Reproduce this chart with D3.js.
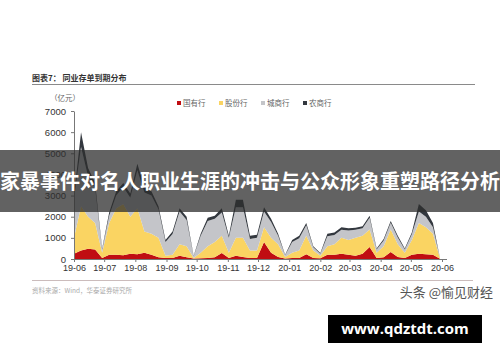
<!DOCTYPE html>
<html lang="zh">
<head>
  <meta charset="UTF-8">
  <title>同业存单到期分布</title>
  <script src="https://d3js.org/d3.v7.min.js"></script>
  <style>
    body { margin: 0; background: #fff; }
    svg text { font-family: "Liberation Sans", Arial, sans-serif; }
    .cjk { font-family: "Noto Sans CJK SC", sans-serif; }
  </style>
</head>
<body>
<script>
  // weekly maturity amounts (亿元)
  const seriesNames = ['国有行', '股份行', '城商行', '农商行'];
  const stateBanks = [250,400,480,450,50,200,200,180,250,220,300,200,80,50,50,150,80,20,30,50,80,280,50,150,100,50,50,800,300,100,20,50,50,230,50,30,200,200,250,200,150,250,570,50,80,330,100,50,200,250,230,200,10];
  const jointBanks = [750,2100,1520,1250,250,1500,2200,2420,1750,2180,1000,1000,920,100,150,550,520,30,270,550,720,820,250,850,900,350,350,700,700,600,80,250,350,870,350,120,400,500,750,700,850,850,830,250,520,1070,600,250,700,1450,1270,1000,20];
  const cityBanks = [1850,2800,1900,1650,150,350,600,800,900,1800,1850,1800,1350,650,980,1550,1250,80,800,1200,1100,1100,700,1450,1450,550,600,750,750,400,80,500,580,500,150,100,480,430,380,450,380,350,550,150,270,320,320,150,270,550,500,300,15];
  const ruralBanks = [150,700,400,250,50,150,200,200,200,300,250,200,150,100,120,150,150,20,100,150,150,200,100,350,350,150,150,200,150,100,20,100,120,100,50,30,120,120,120,100,100,100,100,50,80,80,80,50,80,350,300,200,5];
  const yTicks = [0, 1000, 2000, 3000, 4000, 5000, 6000, 7000];
  const monthLabels = ['19-06','19-07','19-08','19-09','19-10','19-11','19-12','20-01','20-02','20-03','20-04','20-05','20-06'];

  const colors = ['#c00d12', '#fad462', '#c4c5c9', '#33383f'];
  const start = new Date(2019, 5, 1);

  const rows = stateBanks.map((v, i) => ({
    date: d3.timeDay.offset(start, 7 * i),
    '国有行': v, '股份行': jointBanks[i], '城商行': cityBanks[i], '农商行': ruralBanks[i]
  }));

  const W = 500, H = 362;
  const svg = d3.select('body').append('svg').attr('width', W).attr('height', H);

  const x = d3.scaleTime().domain([start, new Date(2020, 5, 1)]).range([74, 442]);
  const y = d3.scaleLinear().domain([0, 7000]).range([259, 111]);

  // title + rules
  svg.append('text').attr('class', 'cjk').attr('x', 32).attr('y', 81)
    .attr('font-size', 8).attr('font-weight', 'bold').attr('fill', '#333')
    .text('图表7：  同业存单到期分布');
  svg.append('line').attr('x1', 32).attr('x2', 475).attr('y1', 84.5).attr('y2', 84.5)
    .attr('stroke', '#8a8a8a').attr('stroke-width', 1);
  svg.append('text').attr('class', 'cjk').attr('x', 50).attr('y', 101)
    .attr('font-size', 7.5).attr('fill', '#666').text('（亿元）');

  // legend
  const legend = svg.append('g');
  seriesNames.forEach((n, i) => {
    const lx = 177 + i * 42;
    legend.append('rect').attr('x', lx).attr('y', 101).attr('width', 4).attr('height', 4).attr('fill', colors[i]);
    legend.append('text').attr('class', 'cjk').attr('x', lx + 6).attr('y', 106)
      .attr('font-size', 7.5).attr('fill', '#666').text(n);
  });

  // stacked areas
  const stack = d3.stack().keys(seriesNames);
  const layers = stack(rows);
  const area = d3.area()
    .x(d => x(d.data.date))
    .y0(d => y(d[0]))
    .y1(d => y(d[1]));
  svg.append('g').selectAll('path').data(layers).join('path')
    .attr('d', area).attr('fill', (d, i) => colors[i]);

  // y axis
  const yAxis = svg.append('g').attr('transform', 'translate(74,0)')
    .call(d3.axisLeft(y).tickValues(yTicks).tickFormat(d3.format('d'))
      .tickSize(3).tickSizeOuter(0).tickPadding(5));
  yAxis.select('.domain').attr('stroke', '#777');
  yAxis.selectAll('.tick line').attr('stroke', '#777');
  yAxis.selectAll('text').attr('font-size', 9.5).attr('fill', '#333');

  // x axis
  const xAxis = svg.append('g').attr('transform', 'translate(0,259)')
    .call(d3.axisBottom(x).ticks(d3.timeMonth.every(1)).tickSize(3).tickSizeOuter(0)
      .tickFormat((d, i) => monthLabels[i]).tickPadding(3));
  xAxis.select('.domain').attr('d', 'M74,0.5H447').attr('stroke', '#777');
  xAxis.selectAll('.tick line').attr('stroke', '#777');
  xAxis.selectAll('text').attr('font-size', 9).attr('fill', '#333');

  // footer
  svg.append('line').attr('x1', 32).attr('x2', 473).attr('y1', 280.5).attr('y2', 280.5)
    .attr('stroke', '#cbbcbc').attr('stroke-width', 1);
  svg.append('text').attr('class', 'cjk').attr('x', 32).attr('y', 293)
    .attr('font-size', 6.5).attr('fill', '#aaa').text('资料来源：Wind，华泰证券研究所');
  svg.append('text').attr('class', 'cjk').attr('x', 493).attr('y', 297)
    .attr('text-anchor', 'end').attr('font-size', 13).attr('fill', '#555').text('头条 @愉见财经');

  // overlay banner
  svg.append('rect').attr('x', 0).attr('y', 150).attr('width', W).attr('height', 62)
    .attr('fill', 'rgba(45,45,45,0.75)');
  svg.append('text').attr('class', 'cjk').attr('x', 250).attr('y', 189)
    .attr('text-anchor', 'middle').attr('font-size', 20).attr('font-weight', 'bold')
    .attr('fill', '#fff').text('家暴事件对名人职业生涯的冲击与公众形象重塑路径分析');

  // url box
  svg.append('rect').attr('x', 328).attr('y', 315).attr('width', 154).attr('height', 28).attr('fill', '#000');
  svg.append('text').attr('x', 405).attr('y', 334).attr('text-anchor', 'middle')
    .attr('font-size', 15).attr('font-weight', 'bold').attr('fill', '#fff')
    .style('font-family', '"Open Sans", sans-serif').text('www.qdztdt.com');
</script>
</body>
</html>
